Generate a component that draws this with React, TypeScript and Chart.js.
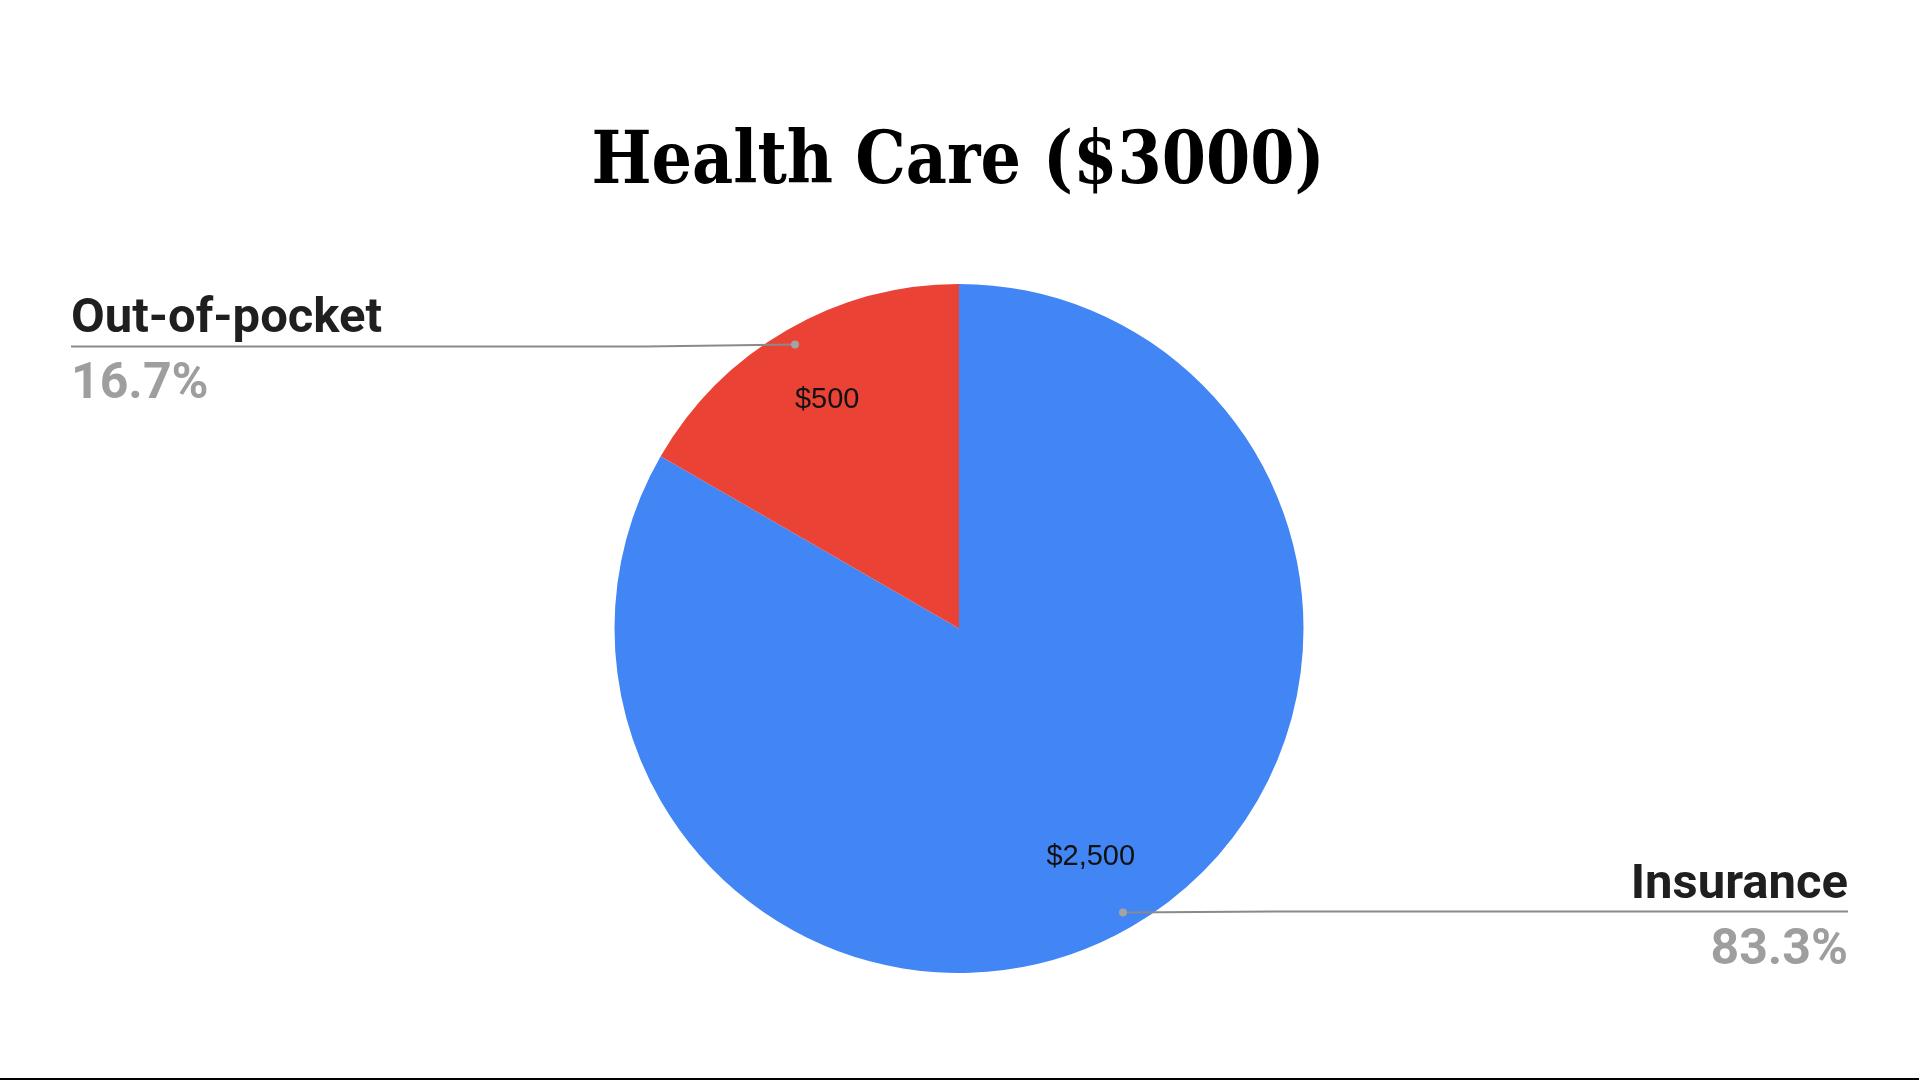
import React, { useEffect, useRef } from "react";
import { Chart, registerables } from "chart.js";

Chart.register(...registerables);

const chartTitle = "Health Care ($3000)";
const categories = ["Insurance", "Out-of-pocket"];
const values = [2500, 500];
const colors = ["#4285F4", "#EA4335"];

const W = 1919;
const H = 1080;

const titlePlugin = {
  id: "condensedTitle",
  afterDraw(chart: any) {
    const ctx = chart.ctx as CanvasRenderingContext2D;
    ctx.save();
    ctx.font = "bold 73px 'DejaVu Serif', serif";
    ctx.fillStyle = "#000";
    ctx.textBaseline = "alphabetic";
    ctx.textAlign = "left";
    const targetW = 733;
    const m = ctx.measureText(chartTitle).width;
    const sx = targetW / m;
    const cx = 958;
    ctx.translate(cx - targetW / 2, 183);
    ctx.scale(sx, 1);
    ctx.fillText(chartTitle, 0, 0);
    ctx.restore();
    // bottom rule
    ctx.save();
    ctx.fillStyle = "#000";
    ctx.fillRect(0, H - 2, W, 2);
    ctx.restore();
  },
};

const calloutPlugin = {
  id: "callouts",
  afterDatasetsDraw(chart: any) {
    const ctx = chart.ctx as CanvasRenderingContext2D;
    const meta = chart.getDatasetMeta(0);
    const total = values.reduce((a, b) => a + b, 0);
    meta.data.forEach((arc: any, i: number) => {
      const { x, y, startAngle, endAngle, outerRadius } = arc.getProps(
        ["x", "y", "startAngle", "endAngle", "outerRadius"],
        true
      );
      const mid = (startAngle + endAngle) / 2;
      ctx.save();
      // value label inside slice
      const lr = outerRadius * 0.765;
      ctx.font = "29px 'Liberation Sans', Arial, sans-serif";
      ctx.fillStyle = "#111";
      ctx.textAlign = "center";
      ctx.textBaseline = "middle";
      ctx.fillText(
        "$" + values[i].toLocaleString("en-US"),
        x + Math.cos(mid) * lr,
        y + Math.sin(mid) * lr
      );
      // leader line
      const dr = outerRadius * 0.952;
      const dx = x + Math.cos(mid) * dr;
      const dy = y + Math.sin(mid) * dr;
      const left = Math.cos(mid) < 0;
      const edgeX = left ? 71 : 1848;
      const lineY = dy + (left ? 2 : -1);
      ctx.strokeStyle = "#8a8a8a";
      ctx.lineWidth = 2;
      ctx.beginPath();
      ctx.moveTo(dx, dy);
      ctx.lineTo(dx + (left ? -150 : 150), lineY);
      ctx.lineTo(edgeX, lineY);
      ctx.stroke();
      ctx.fillStyle = "#a3a3a3";
      ctx.beginPath();
      ctx.arc(dx, dy, 4, 0, Math.PI * 2);
      ctx.fill();
      // name + percent
      ctx.textAlign = left ? "left" : "right";
      ctx.textBaseline = "alphabetic";
      ctx.font = "bold 49px Roboto, sans-serif";
      ctx.fillStyle = "#1f1f1f";
      ctx.fillText(categories[i], edgeX, lineY - 14);
      ctx.font = "bold 50px Roboto, sans-serif";
      ctx.fillStyle = "#9e9e9e";
      const pct = ((values[i] / total) * 100).toFixed(1) + "%";
      ctx.fillText(pct, edgeX, lineY + 52);
      ctx.restore();
    });
  },
};

export default function App() {
  const canvasRef = useRef<HTMLCanvasElement | null>(null);

  useEffect(() => {
    document.body.style.margin = "0";
    const canvas = canvasRef.current;
    if (!canvas) return;
    const chart = new Chart(canvas, {
      type: "pie",
      data: {
        labels: categories,
        datasets: [
          {
            data: values,
            backgroundColor: colors,
            borderWidth: 0,
          },
        ],
      },
      options: {
        responsive: false,
        animation: false,
        devicePixelRatio: 1,
        layout: { padding: { top: 284, bottom: 107, left: 0, right: 1 } },
        plugins: {
          legend: { display: false },
          tooltip: { enabled: false },
          title: { display: false },
        },
      },
      plugins: [calloutPlugin, titlePlugin],
    });
    return () => chart.destroy();
  }, []);

  return (
    <div style={{ position: "absolute", left: 0, top: 0, width: W, height: H, background: "#fff" }}>
      <canvas ref={canvasRef} width={W} height={H} style={{ display: "block" }} />
    </div>
  );
}
